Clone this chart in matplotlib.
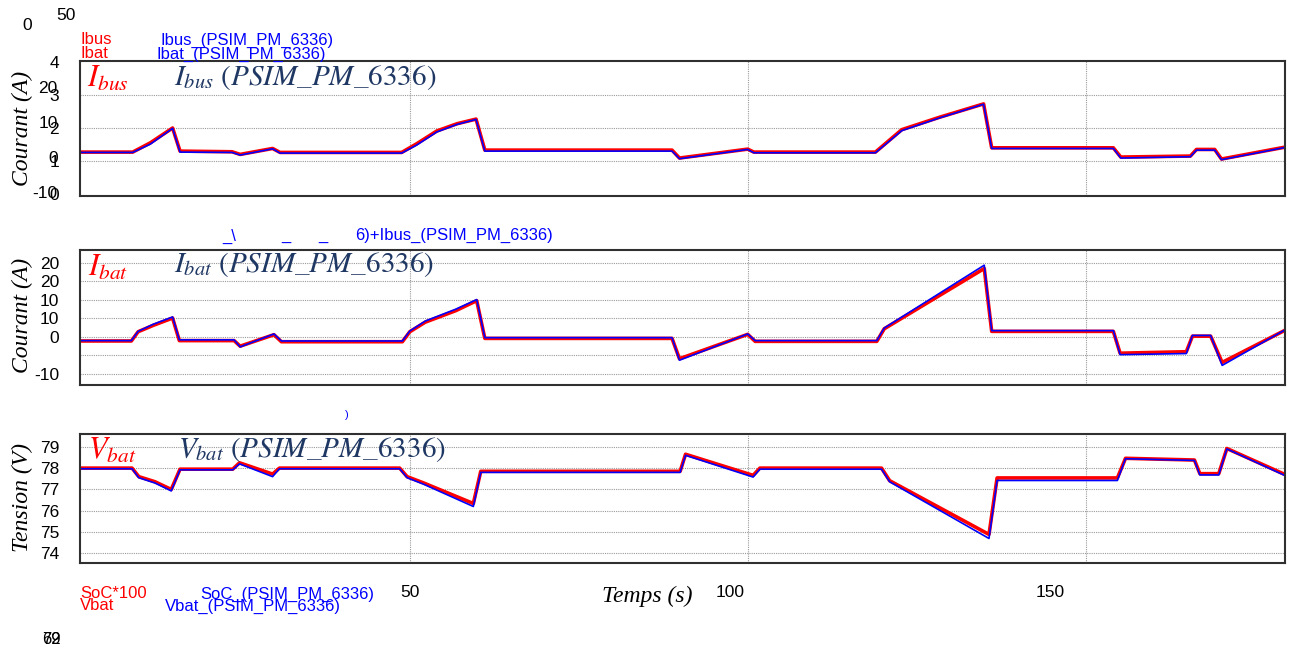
import numpy as np
import matplotlib.pyplot as plt

plt.rcParams['font.family'] = 'Liberation Sans'
plt.rcParams['mathtext.fontset'] = 'stix'
plt.rcParams['axes.unicode_minus'] = False

# ---- data ----
# panel 1 : Ibus (axis units of the gridded scale, 0..4)
t_bus = [1.2, 9.0, 11.6, 14.9, 16.0, 23.7, 24.9, 29.7, 30.8, 48.8, 51.0, 54.0, 57.0, 59.8, 61.1,
         88.8, 89.9, 100.0, 100.9, 118.9, 122.8, 128.3, 134.9, 136.1, 154.1, 155.2, 165.5,
         166.4, 169.1, 170.1, 179.5]
ibus = [1.27, 1.27, 1.55, 2.00, 1.30, 1.28, 1.20, 1.38, 1.26, 1.26, 1.52, 1.91, 2.13, 2.27, 1.33,
        1.33, 1.09, 1.36, 1.27, 1.27, 1.95, 2.32, 2.73, 1.40, 1.40, 1.12, 1.15,
        1.35, 1.35, 1.06, 1.42]
ibus_psim = [1.26, 1.26, 1.51, 1.99, 1.27, 1.26, 1.18, 1.37, 1.24, 1.24, 1.48, 1.88, 2.11, 2.26, 1.30,
             1.30, 1.07, 1.35, 1.25, 1.25, 1.92, 2.30, 2.72, 1.38, 1.38, 1.09, 1.13,
             1.33, 1.33, 1.04, 1.41]

# panel 2 : Ibat (A)
t_bat = [1.2, 8.8, 9.8, 12.0, 14.9, 15.9, 24.0, 24.9, 29.9, 31.0, 48.9, 50.0, 52.3, 56.8, 59.9,
         61.1, 88.8, 89.9, 100.0, 101.1, 119.1, 120.2, 135.0, 136.1, 154.1, 155.1, 164.9,
         165.8, 168.5, 170.2, 179.5]
ibat = [-1.1, -1.1, 1.4, 3.1, 5.1, -1.0, -1.0, -2.5, 0.6, -1.3, -1.3, 1.4, 4.0, 7.1, 9.8,
        -0.4, -0.4, -5.9, 0.7, -1.2, -1.2, 2.2, 18.5, 1.5, 1.5, -4.4, -4.0,
        0.2, 0.2, -6.9, 1.8]
ibat_psim = [-1.0, -1.0, 1.5, 3.4, 5.4, -0.8, -0.8, -2.7, 0.8, -1.1, -1.1, 1.6, 4.3, 7.5, 10.1,
             -0.2, -0.2, -6.3, 0.8, -1.0, -1.0, 2.4, 19.4, 1.7, 1.7, -4.8, -4.5,
             0.4, 0.4, -7.7, 1.9]

# panel 3 : Vbat (V)
t_v = [1.2, 8.9, 9.9, 12.3, 14.7, 16.0, 23.8, 24.8, 29.7, 30.7, 48.5, 49.6, 52.0, 59.4, 60.5,
       90.0, 90.8, 100.8, 101.8, 119.8, 121.0, 135.7, 136.9, 154.7, 155.9, 166.1, 166.9,
       169.7, 170.9, 179.5]
vbat = [78.0, 78.0, 77.6, 77.36, 77.0, 77.95, 77.95, 78.25, 77.72, 78.0, 78.0, 77.6, 77.31, 76.34, 77.85,
        77.85, 78.65, 77.66, 78.0, 78.0, 77.41, 74.89, 77.54, 77.54, 78.46, 78.38, 77.74,
        77.74, 78.92, 77.7]
vbat_psim = [77.97, 77.97, 77.55, 77.3, 76.93, 77.92, 77.92, 78.2, 77.6, 77.97, 77.97, 77.55, 77.25, 76.2, 77.8,
             77.8, 78.6, 77.58, 77.95, 77.95, 77.36, 74.7, 77.42, 77.42, 78.44, 78.36, 77.68,
             77.68, 78.9, 77.65]

W, H = 1293, 648
RED = '#ff0000'
BLUE = '#0000ff'
NAVY = '#1f3763'


def box(l, t, r, b):
    return [l / W, 1 - b / H, (r - l) / W, (b - t) / H]


def ftxt(x, y, s, **kw):
    fig.text(x / W, 1 - y / H, s, **kw)


fig = plt.figure(figsize=(12.93, 6.48), dpi=100)
ax1 = fig.add_axes(box(80, 61, 1285, 196))
ax2 = fig.add_axes(box(80, 250, 1285, 385))
ax3 = fig.add_axes(box(80, 434, 1285, 563))

for ax in (ax1, ax2, ax3):
    ax.set_xlim(1.2, 179.5)
    ax.set_xticks([50, 100, 150])
    ax.tick_params(axis='x', length=0, labelbottom=False)
    ax.tick_params(axis='y', length=0, labelsize=12.5, pad=15)
    ax.grid(True, color='#9a9a9a', linestyle=(0, (1, 1)), linewidth=0.8)
    ax.set_axisbelow(True)
    for sp in ax.spines.values():
        sp.set_color('#303030')
        sp.set_linewidth(1.5)

ax1.plot(t_bus, ibus, color=RED, lw=2.6)
ax1.plot(t_bus, ibus_psim, color=BLUE, lw=1.2)
ax2.plot(t_bat, ibat, color=RED, lw=2.6)
ax2.plot(t_bat, ibat_psim, color=BLUE, lw=1.2)
ax3.plot(t_v, vbat, color=RED, lw=2.6)
ax3.plot(t_v, vbat_psim, color=BLUE, lw=1.2)

# panel 1: two overlapping scales, as in the exported screenshot
ax1.set_ylim(-0.06, 4.03)
ax1.set_yticks([0, 1, 2, 3, 4])
gl = ax1.get_ygridlines()
gl[0].set_visible(False)
gl[-1].set_visible(False)
sec1 = ax1.secondary_yaxis('left', functions=(lambda b: (-4 + 33 * (b - 1)) / 3.5,
                                              lambda a: 1 + (3.5 * a + 4) / 33))
sec1.set_yticks([-10, 0, 10, 20])
sec1.tick_params(length=0, labelsize=12.5, pad=16)
sec1.spines['left'].set_visible(False)

ax2.set_ylim(-13.0, 23.5)
ax2.set_yticks([-10, -5, 0, 5, 10, 15, 20])
ax2.set_yticklabels(['-10', '', '0', '10', '10', '20', '20'])

ax3.set_ylim(73.55, 79.6)
ax3.set_yticks([74, 75, 76, 77, 78, 79])

# time labels (shifted with respect to the grid in the original)
sec3 = ax3.secondary_xaxis('bottom', functions=(lambda t: 50 + ((t - 1.2) * 6.757 - 330) / 6.4,
                                                lambda L: 1.2 + (330 + (L - 50) * 6.4) / 6.757))
sec3.set_xticks([50, 100, 150])
sec3.tick_params(length=0, labelsize=12.5, pad=16)
sec3.spines['bottom'].set_visible(False)

serif_it = dict(family='Liberation Serif', style='italic')
ftxt(22, 128, 'Courant (A)', rotation=90, ha='center', va='center', fontsize=17, **serif_it)
ftxt(22, 315, 'Courant (A)', rotation=90, ha='center', va='center', fontsize=17, **serif_it)
ftxt(22, 497, 'Tension (V)', rotation=90, ha='center', va='center', fontsize=17, **serif_it)
ftxt(647, 596, 'Temps (s)', ha='center', va='center', fontsize=17, **serif_it)

# in-plot labels
ftxt(87, 79, r'$I_{bus}$', color=RED, fontsize=22, va='center')
ftxt(174, 78, r'$I_{bus}\ (PSIM\_PM\_6336)$', color=NAVY, fontsize=21, va='center')
ftxt(88, 268, r'$I_{bat}$', color=RED, fontsize=22, va='center')
ftxt(174, 265, r'$I_{bat}\ (PSIM\_PM\_6336)$', color=NAVY, fontsize=21, va='center')
ftxt(88, 451, r'$V_{bat}$', color=RED, fontsize=22, va='center')
ftxt(178, 449, r'$V_{bat}\ (PSIM\_PM\_6336)$', color=NAVY, fontsize=21, va='center')

# leftover PSIM legend texts
ftxt(27, 26, '0', fontsize=12.5, ha='center', va='center')
ftxt(66, 16, '50', fontsize=12.5, ha='center', va='center')
ftxt(80, 40, 'Ibus', color=RED, fontsize=12, va='center')
ftxt(161, 40, 'Ibus_(PSIM_PM_6336)', color=BLUE, fontsize=12, va='center')
ftxt(80, 54, 'Ibat', color=RED, fontsize=12, va='center')
ftxt(157, 54, 'Ibat_(PSIM_PM_6336)', color=BLUE, fontsize=12, va='center')
ftxt(222, 236, '_\\', color=BLUE, fontsize=12, va='center')
ftxt(281, 236, '_', color=BLUE, fontsize=12, va='center')
ftxt(318, 236, '_', color=BLUE, fontsize=12, va='center')
ftxt(355, 235, '6)+Ibus_(PSIM_PM_6336)', color=BLUE, fontsize=12, va='center')
ftxt(345, 415, ')', color=BLUE, fontsize=8, va='center')
ftxt(80, 594, 'SoC*100', color=RED, fontsize=12, va='center')
ftxt(80, 606, 'Vbat', color=RED, fontsize=12, va='center')
ftxt(200, 594, 'SoC_(PSIM_PM_6336)', color=BLUE, fontsize=12, va='center')
ftxt(165, 606, 'Vbat_(PSIM_PM_6336)', color=BLUE, fontsize=12, va='center')
ftxt(51, 640, '62', fontsize=12, ha='center', va='center')
ftxt(51, 640, '79', fontsize=12, ha='center', va='center')

fig.savefig('out.png', dpi=100)
